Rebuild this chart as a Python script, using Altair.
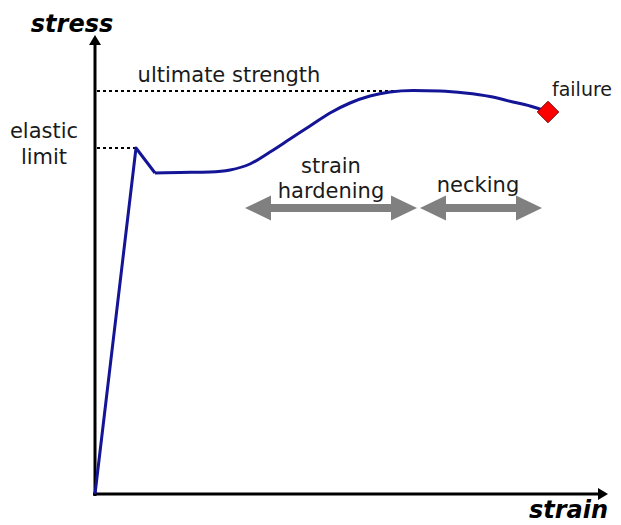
import altair as alt
import pandas as pd

# ---- stress-strain curve (arbitrary units) ----
elastic_strain = [0, 41, 60]
elastic_stress = [0, 346, 321]
plastic_strain = [60, 85, 115, 135, 155, 175, 195, 215, 235, 255, 275, 295, 318, 345, 370, 395, 418, 435, 453]
plastic_stress = [321, 321.5, 322, 324, 330, 342, 355, 368, 381, 391, 398, 402, 403.5, 403, 401, 397.5, 392, 388, 382]

failure_strain = [453]
failure_stress = [382]

ultimate_strength = 403
ultimate_end = 305
elastic_limit = 346
elastic_limit_strain = 41

# axis extents (arrow tips)
axis_x_tip = 513
axis_y_tip = 459

# regions shown by double arrows
region_names = ["strain hardening", "necking"]
region_start = [150, 325]
region_end = [322, 447]
region_level = 286

# text labels
label_text = ["ultimate strength", "elastic", "limit", "strain", "hardening", "necking"]
label_strain = [134, -51, -51, 236, 236, 383]
label_stress = [412, 356, 330, 321, 296, 302]

x_dom = [-87, 518]
y_dom = [-31, 486]
xs = alt.Scale(domain=x_dom, nice=False, zero=False)
ys = alt.Scale(domain=y_dom, nice=False, zero=False)

def X(f="x"):
    return alt.X(f"{f}:Q", scale=xs, axis=None)

def Y(f="y"):
    return alt.Y(f"{f}:Q", scale=ys, axis=None)

FONT = "DejaVu Sans"
FS = 21

# axes
axes_df = pd.DataFrame({
    "x": [0, -2], "x2": [0, axis_x_tip - 8],
    "y": [-2, 0], "y2": [axis_y_tip - 8, 0],
})
axes = alt.Chart(axes_df).mark_rule(color="black", strokeWidth=3).encode(
    x=X(), x2="x2:Q", y=Y(), y2="y2:Q")

# arrow heads
RIGHT_S = "M0,0L-1,-0.6L-1,0.6Z"
UP_S = "M0,0L-0.6,1L0.6,1Z"
RIGHT_B = "M0,0L-1,-0.48L-1,0.48Z"
LEFT_B = "M0,0L1,-0.48L1,0.48Z"

heads_rows = [
    {"x": axis_x_tip, "y": 0, "shape": RIGHT_S, "size": 400, "color": "black"},
    {"x": 0, "y": axis_y_tip, "shape": UP_S, "size": 400, "color": "black"},
]
for s, e in zip(region_start, region_end):
    heads_rows.append({"x": s, "y": region_level, "shape": LEFT_B, "size": 2704, "color": "#808080"})
    heads_rows.append({"x": e, "y": region_level, "shape": RIGHT_B, "size": 2704, "color": "#808080"})
heads_df = pd.DataFrame(heads_rows)
heads = alt.Chart(heads_df).mark_point(filled=True, opacity=1, strokeWidth=0).encode(
    x=X(), y=Y(),
    shape=alt.Shape("shape:N", scale=None),
    size=alt.Size("size:Q", scale=None),
    color=alt.Color("color:N", scale=None),
)

# gray shafts
shaft_df = pd.DataFrame({
    "x": [s + 20 for s in region_start],
    "x2": [e - 20 for e in region_end],
    "y": [region_level] * len(region_start),
})
shafts = alt.Chart(shaft_df).mark_rule(color="#808080", strokeWidth=8).encode(
    x=X(), x2="x2:Q", y=Y())

# dotted reference lines
dot_df = pd.DataFrame({
    "x": [2, 2], "x2": [ultimate_end, elastic_limit_strain],
    "y": [ultimate_strength, elastic_limit],
})
dots = alt.Chart(dot_df).mark_rule(color="black", strokeWidth=2, strokeDash=[3, 3]).encode(
    x=X(), x2="x2:Q", y=Y())

# curve
el_df = pd.DataFrame({"x": elastic_strain, "y": elastic_stress})
pl_df = pd.DataFrame({"x": plastic_strain, "y": plastic_stress})
line_color = "#141496"
curve1 = alt.Chart(el_df).mark_line(color=line_color, strokeWidth=3, strokeJoin="round").encode(
    x=X(), y=Y(), order="x:Q")
curve2 = alt.Chart(pl_df).mark_line(color=line_color, strokeWidth=3, interpolate="monotone").encode(
    x=X(), y=Y(), order="x:Q")

# failure marker
fail_df = pd.DataFrame({"x": failure_strain, "y": failure_stress})
fail = alt.Chart(fail_df).mark_point(shape="diamond", filled=True, size=460, fill="#ff0000",
                                     stroke="#7a0000", strokeWidth=1, opacity=1).encode(
    x=X(), y=Y())

# labels
lab_df = pd.DataFrame({"t": label_text, "x": label_strain, "y": label_stress})
labels = alt.Chart(lab_df).mark_text(font=FONT, fontSize=FS, color="#1a1a1a",
                                     align="center", baseline="alphabetic").encode(
    x=X(), y=Y(), text="t:N")

fail_lab = alt.Chart(pd.DataFrame({"t": ["failure"], "x": [457], "y": [398]})).mark_text(
    font=FONT, fontSize=19, color="#1a1a1a", align="left", baseline="alphabetic").encode(
    x=X(), y=Y(), text="t:N")

ytitle = alt.Chart(pd.DataFrame({"t": ["stress"], "x": [-23], "y": [462]})).mark_text(
    font=FONT, fontSize=24, fontWeight="bold", fontStyle="italic", color="black",
    align="center", baseline="alphabetic").encode(x=X(), y=Y(), text="t:N")

xtitle = alt.Chart(pd.DataFrame({"t": ["strain"], "x": [513], "y": [-24]})).mark_text(
    font=FONT, fontSize=24, fontWeight="bold", fontStyle="italic", color="black",
    align="right", baseline="alphabetic").encode(x=X(), y=Y(), text="t:N")

chart = alt.layer(
    dots, axes, shafts, heads, curve1, curve2, fail, labels, fail_lab, ytitle, xtitle
).properties(
    width=605, height=517, autosize=alt.AutoSizeParams(type="none"), padding=0,
    background="white",
).configure_view(stroke=None)

chart.save("out.html", embed_options={"renderer": "svg", "actions": False})
